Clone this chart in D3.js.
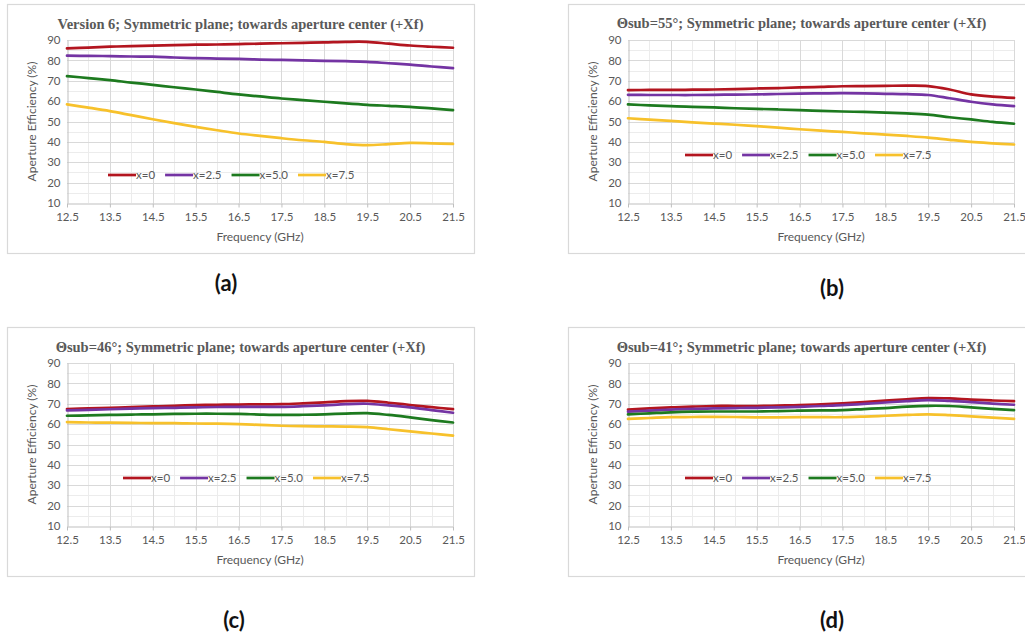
<!DOCTYPE html>
<html>
<head>
<meta charset="utf-8">
<script src="https://cdn.jsdelivr.net/npm/d3@7/dist/d3.min.js"></script>
<style>
  html, body { margin: 0; padding: 0; background: #ffffff; }
  svg { display: block; }
</style>
</head>
<body>
<svg id="chart" width="1025" height="639"></svg>
<script>
// Frequency sweep (GHz) shared by every panel
const freqGHz = [12.5, 13, 13.5, 14, 14.5, 15, 15.5, 16, 16.5, 17, 17.5, 18, 18.5, 19, 19.5, 20, 20.5, 21, 21.5];
const xTicks = [12.5, 13.5, 14.5, 15.5, 16.5, 17.5, 18.5, 19.5, 20.5, 21.5];
const yTicks = [10, 20, 30, 40, 50, 60, 70, 80, 90];
const seriesNames = ["x=0", "x=2.5", "x=5.0", "x=7.5"];
const seriesColors = ["#b3151f", "#7434a3", "#1d7a1f", "#f7c12b"];
const panelTitles = [
  "Version 6; Symmetric plane; towards aperture center (+Xf)",
  "\u0398sub=55\u00b0; Symmetric plane; towards aperture center (+Xf)",
  "\u0398sub=46\u00b0; Symmetric plane; towards aperture center (+Xf)",
  "\u0398sub=41\u00b0; Symmetric plane; towards aperture center (+Xf)"
];
const panelLabels = ["(a)", "(b)", "(c)", "(d)"];

// Aperture efficiency (%) — panel (a), Version 6
const effA_x0  = [85.9, 86.3, 86.7, 87.0, 87.2, 87.5, 87.7, 87.8, 88.0, 88.2, 88.4, 88.6, 88.8, 89.1, 89.1, 88.2, 87.3, 86.7, 86.2];
const effA_x25 = [82.3, 82.2, 82.1, 81.9, 81.8, 81.4, 81.1, 80.9, 80.7, 80.4, 80.2, 80.0, 79.8, 79.6, 79.3, 78.6, 77.9, 77.0, 76.2];
const effA_x50 = [72.3, 71.3, 70.3, 69.1, 68.0, 66.8, 65.7, 64.5, 63.3, 62.3, 61.3, 60.5, 59.7, 58.9, 58.2, 57.7, 57.2, 56.4, 55.6];
const effA_x75 = [58.4, 56.8, 55.1, 53.1, 51.1, 49.2, 47.4, 45.7, 44.1, 42.9, 41.8, 40.8, 40.0, 38.9, 38.4, 38.9, 39.5, 39.3, 39.0];

// panel (b), Θsub = 55°
const effB_x0  = [65.4, 65.5, 65.5, 65.6, 65.7, 65.9, 66.2, 66.4, 66.7, 67.0, 67.3, 67.4, 67.5, 67.6, 67.4, 65.7, 63.3, 62.2, 61.6];
const effB_x25 = [63.1, 63.0, 63.0, 63.0, 63.1, 63.2, 63.3, 63.5, 63.7, 63.8, 63.9, 63.8, 63.6, 63.4, 63.0, 61.4, 59.7, 58.4, 57.5];
const effB_x50 = [58.4, 57.9, 57.5, 57.2, 56.9, 56.5, 56.2, 55.9, 55.6, 55.2, 54.9, 54.7, 54.4, 54.0, 53.4, 52.1, 51.0, 49.8, 48.9];
const effB_x75 = [51.6, 50.9, 50.3, 49.6, 49.0, 48.4, 47.7, 47.0, 46.2, 45.5, 44.9, 44.2, 43.6, 42.9, 42.1, 41.0, 40.0, 39.3, 38.7];

// panel (c), Θsub = 46°
const effC_x0  = [67.4, 67.7, 68.0, 68.4, 68.7, 69.0, 69.3, 69.5, 69.6, 69.7, 69.8, 70.2, 70.7, 71.3, 71.4, 70.5, 69.4, 68.3, 67.4];
const effC_x25 = [66.7, 67.0, 67.3, 67.6, 67.9, 68.0, 68.2, 68.4, 68.5, 68.5, 68.5, 68.8, 69.2, 69.8, 70.0, 69.2, 68.2, 66.9, 65.6];
const effC_x50 = [64.1, 64.3, 64.5, 64.7, 64.8, 65.0, 65.1, 65.1, 65.0, 64.7, 64.5, 64.6, 64.8, 65.2, 65.4, 64.5, 63.3, 62.0, 60.8];
const effC_x75 = [61.0, 60.8, 60.7, 60.6, 60.5, 60.5, 60.3, 60.2, 60.0, 59.6, 59.2, 59.0, 58.9, 58.8, 58.5, 57.5, 56.4, 55.4, 54.4];

// panel (d), Θsub = 41°
const effD_x0  = [67.1, 67.7, 68.2, 68.6, 68.9, 68.9, 68.9, 69.1, 69.3, 69.7, 70.2, 70.8, 71.5, 72.2, 72.8, 72.6, 72.0, 71.6, 71.3];
const effD_x25 = [66.1, 66.6, 67.1, 67.5, 67.7, 67.9, 68.0, 68.2, 68.5, 68.9, 69.3, 69.9, 70.6, 71.3, 71.8, 71.4, 70.8, 70.1, 69.5];
const effD_x50 = [64.8, 65.3, 65.8, 66.1, 66.2, 66.2, 66.2, 66.4, 66.6, 66.7, 66.9, 67.4, 67.9, 68.6, 69.0, 68.9, 68.2, 67.5, 66.9];
const effD_x75 = [62.6, 63.0, 63.4, 63.5, 63.6, 63.5, 63.3, 63.3, 63.4, 63.4, 63.4, 63.7, 64.1, 64.5, 64.8, 64.4, 63.8, 63.2, 62.6];

const panelSeries = [
  [effA_x0, effA_x25, effA_x50, effA_x75],
  [effB_x0, effB_x25, effB_x50, effB_x75],
  [effC_x0, effC_x25, effC_x50, effC_x75],
  [effD_x0, effD_x25, effD_x50, effD_x75]
];

// Panel geometry: plot rectangle, surrounding frame, legend and caption placement
const panels = [
  { left: 67,  top: 40,  legendX: 41, legendY: 135, labelX: 226, labelY: 291, titleY: 29 },
  { left: 628, top: 40,  legendX: 57, legendY: 115, labelX: 832, labelY: 296, titleY: 28 },
  { left: 67,  top: 363, legendX: 56, legendY: 115, labelX: 234, labelY: 628, titleY: 352 },
  { left: 628, top: 363, legendX: 57, legendY: 115, labelX: 832, labelY: 628, titleY: 352 }
];
const plotW = 386, plotH = 163;
const frameDX = 60, frameTop = 36, frameW = 467, frameH = 249;

const svg = d3.select("#chart");
const textGray = "#595959";
const tickFont = "Lato, 'Open Sans', sans-serif";

panels.forEach((p, i) => {
  const g = svg.append("g");

  // chart frame
  g.append("rect")
    .attr("x", p.left - frameDX + 0.5).attr("y", p.top - frameTop + 0.5)
    .attr("width", frameW).attr("height", frameH)
    .attr("fill", "#ffffff").attr("stroke", "#d9d9d9").attr("stroke-width", 1.2);

  const x = d3.scaleLinear().domain([12.5, 21.5]).range([p.left, p.left + plotW]);
  const y = d3.scaleLinear().domain([10, 90]).range([p.top + plotH, p.top]);

  // minor gridlines (half steps)
  const minorX = d3.range(13, 21.5, 1);
  const minorY = d3.range(15, 90, 10);
  g.append("g").selectAll("line").data(minorX).join("line")
    .attr("x1", d => Math.round(x(d)) + 0.5).attr("x2", d => Math.round(x(d)) + 0.5)
    .attr("y1", p.top).attr("y2", p.top + plotH)
    .attr("stroke", "#ececec").attr("stroke-width", 1);
  g.append("g").selectAll("line").data(minorY).join("line")
    .attr("y1", d => Math.round(y(d)) + 0.5).attr("y2", d => Math.round(y(d)) + 0.5)
    .attr("x1", p.left).attr("x2", p.left + plotW)
    .attr("stroke", "#ececec").attr("stroke-width", 1);

  // major gridlines
  g.append("g").selectAll("line").data(xTicks.slice(1)).join("line")
    .attr("x1", d => Math.round(x(d)) + 0.5).attr("x2", d => Math.round(x(d)) + 0.5)
    .attr("y1", p.top).attr("y2", p.top + plotH)
    .attr("stroke", "#d9d9d9").attr("stroke-width", 1);
  g.append("g").selectAll("line").data(yTicks.slice(1)).join("line")
    .attr("y1", d => Math.round(y(d)) + 0.5).attr("y2", d => Math.round(y(d)) + 0.5)
    .attr("x1", p.left).attr("x2", p.left + plotW)
    .attr("stroke", "#d9d9d9").attr("stroke-width", 1);

  // axes
  const xAxis = d3.axisBottom(x).tickValues(xTicks).tickFormat(d3.format(".1f"))
    .tickSizeInner(4).tickSizeOuter(0).tickPadding(5);
  const gx = g.append("g").attr("transform", `translate(0,${p.top + plotH + 0.5})`).call(xAxis);
  gx.select(".domain").attr("stroke", "#bfbfbf");
  gx.selectAll(".tick line").attr("stroke", "#bfbfbf");
  gx.selectAll("text").attr("fill", textGray).style("font-family", tickFont).style("font-size", "11.5px");

  const yAxis = d3.axisLeft(y).tickValues(yTicks).tickSizeInner(0).tickSizeOuter(0).tickPadding(7);
  const gy = g.append("g").attr("transform", `translate(${p.left + 0.5},0)`).call(yAxis);
  gy.select(".domain").attr("stroke", "#bfbfbf");
  gy.selectAll("text").attr("fill", textGray).style("font-family", tickFont).style("font-size", "11.5px");

  // series lines
  const line = d3.line().x((d, k) => x(freqGHz[k])).y(d => y(d)).curve(d3.curveCatmullRom.alpha(0.5));
  panelSeries[i].forEach((vals, s) => {
    g.append("path").datum(vals)
      .attr("d", line).attr("fill", "none")
      .attr("stroke", seriesColors[s]).attr("stroke-width", 2.7)
      .attr("stroke-linejoin", "round").attr("stroke-linecap", "round");
  });

  // legend
  const lg = g.append("g").attr("transform", `translate(${p.left + p.legendX},${p.top + p.legendY})`);
  let cx = 0;
  seriesNames.forEach((name, s) => {
    lg.append("line").attr("x1", cx).attr("x2", cx + 28).attr("y1", 0).attr("y2", 0)
      .attr("stroke", seriesColors[s]).attr("stroke-width", 2.7);
    const t = lg.append("text").attr("x", cx + 28).attr("y", 4)
      .attr("fill", textGray).style("font-family", tickFont).style("font-size", "11.5px").text(name);
    cx += 28 + t.node().getComputedTextLength() + 10;
  });

  // title
  g.append("text")
    .attr("x", p.left - frameDX + frameW / 2).attr("y", p.titleY)
    .attr("text-anchor", "middle").attr("fill", textGray)
    .style("font-family", "'Liberation Serif', 'Times New Roman', serif")
    .style("font-weight", "bold").style("font-size", "14.5px")
    .text(panelTitles[i]);

  // axis titles
  g.append("text")
    .attr("x", p.left + plotW / 2).attr("y", p.top + plotH + 38)
    .attr("text-anchor", "middle").attr("fill", textGray)
    .style("font-family", tickFont).style("font-size", "12px")
    .text("Frequency (GHz)");
  g.append("text")
    .attr("transform", `translate(${p.left - 31},${p.top + plotH / 2}) rotate(-90)`)
    .attr("text-anchor", "middle").attr("fill", textGray)
    .style("font-family", tickFont).style("font-size", "12px")
    .text("Aperture Efficiency (%)");

  // panel caption
  svg.append("text")
    .attr("x", p.labelX).attr("y", p.labelY)
    .attr("text-anchor", "middle").attr("fill", "#111111")
    .style("font-family", "Lato, 'Open Sans', sans-serif")
    .style("font-weight", "bold").style("font-size", "22px")
    .text(panelLabels[i]);
});
</script>
</body>
</html>
